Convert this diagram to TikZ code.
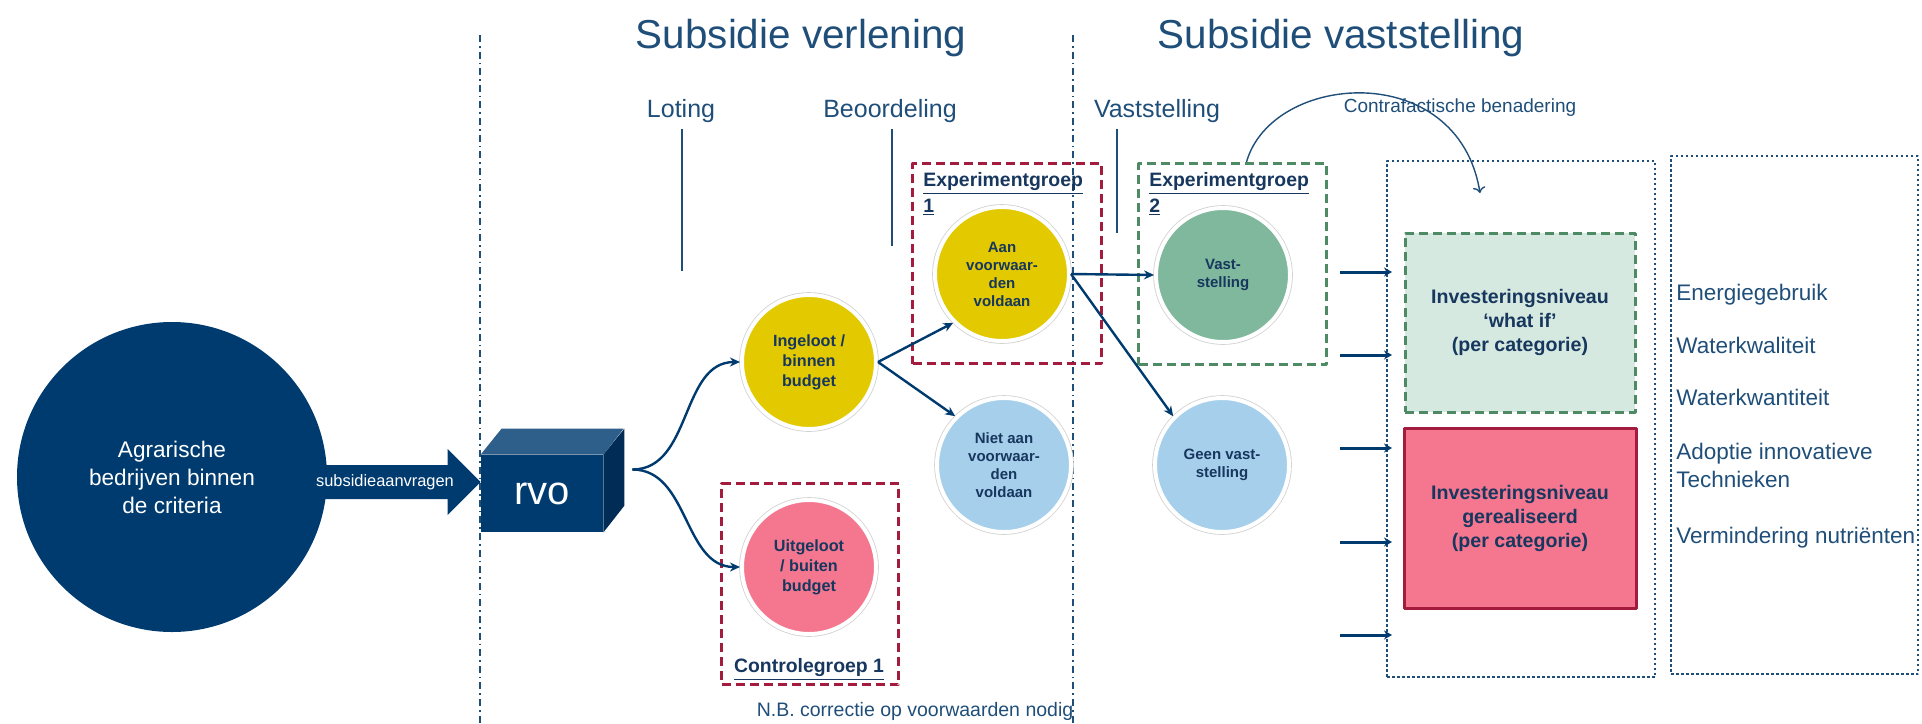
\documentclass[tikz,border=0pt]{standalone}
\usepackage{fontspec}
\setmainfont{Liberation Sans}
\usetikzlibrary{arrows.meta,calc}
\newcommand{\lettergrootte}[2]{\fontsize{#1}{#2}\selectfont}
\definecolor{navy}{HTML}{003B6F}
\definecolor{tekstblauw}{HTML}{1F4E79}
\definecolor{donkertekst}{HTML}{17375E}
\definecolor{geel}{HTML}{E2C900}
\definecolor{lichtblauw}{HTML}{A6CFEB}
\definecolor{roze}{HTML}{F4768F}
\definecolor{groen}{HTML}{7FB89C}
\definecolor{lichtgroen}{HTML}{D6E9E0}
\definecolor{kadergroen}{HTML}{4E8B64}
\definecolor{kaderrood}{HTML}{A31C3E}
\definecolor{rvoboven}{HTML}{2E5E8A}
\definecolor{rvozijkant}{HTML}{002C55}
\begin{document}
\begin{tikzpicture}[x = 0.5pt, y = -0.5pt, line join = round,
  kop/.style = {text = tekstblauw, font = \lettergrootte{20.2}{24}, anchor = base},
  fase/.style = {text = tekstblauw, font = \lettergrootte{12.5}{15}, anchor = base},
  faselijn/.style = {draw = tekstblauw, line width = 0.8pt},
  grens/.style = {draw = tekstblauw, line width = 0.6pt, dash pattern = on 3.5pt off 2pt on 0.8pt off 2pt},
  bol/.style = {circle, minimum size = 67pt, inner sep = 0pt, draw = white, line width = 2pt, preaction = {draw = black!18, line width = 2.8pt}, text = donkertekst, align = center, font = \bfseries\lettergrootte{7.5}{9}},
  grotebol/.style = {bol, font = \bfseries\lettergrootte{8.1}{10}},
  groep/.style = {anchor = north west, line width = 1.5pt, dash pattern = on 4.5pt off 2.5pt},
  groeplabel/.style = {text = donkertekst, font = \bfseries\lettergrootte{9.7}{13}, align = left, anchor = base west, inner sep = 0pt},
  verbinding/.style = {draw = navy, line width = 1.2pt, -{Stealth[length = 5pt, width = 4.5pt]}},
  kortpijl/.style = {draw = navy, line width = 1.5pt, -{Stealth[length = 4pt, width = 4.5pt]}, shorten > = -3pt},
  stippel/.style = {draw = tekstblauw, line width = 1.2pt, dash pattern = on 1.2pt off 1.3pt, anchor = north west},
  niveau/.style = {minimum width = 115pt, minimum height = 89.5pt, text = donkertekst, align = center, font = \bfseries\lettergrootte{9.8}{12}},
  effect/.style = {text = tekstblauw, font = \lettergrootte{11.25}{14}, anchor = base west, align = left, inner sep = 0pt}]

\useasboundingbox (0,0) rectangle (1922,723);

\draw[grens] (480,35) -- (480,723);
\draw[grens] (1073,35) -- (1073,723);

\node[kop] (verlening) at (801,48) {Subsidie verlening};
\node[kop] (vaststelling) at (1341,48) {Subsidie vaststelling};
\node[fase] (loting) at (681,117) {Loting};
\node[fase] (beoordeling) at (890,117) {Beoordeling};
\node[fase] (vast) at (1157,117) {Vaststelling};
\foreach \x/\onder in {682/271, 892/246, 1117/233} \draw[faselijn] (\x,129) -- (\x,\onder);

\node[groep, draw = kaderrood, minimum width = 94.5pt, minimum height = 100pt] (exp1) at (911,162) {};
\node[groep, draw = kadergroen, minimum width = 94pt, minimum height = 100.5pt] (exp2) at (1137,162) {};
\node[groep, draw = kaderrood, minimum width = 88.5pt, minimum height = 100.5pt] (ctrl) at (720,482) {};
\node[groeplabel] (exp1label) at (923,212) {\underline{Experimentgroep}\\\underline{1}};
\node[groeplabel] (exp2label) at (1149,212) {\underline{Experimentgroep}\\\underline{2}};
\node[groeplabel, anchor = base] (ctrllabel) at (809,672) {\underline{Controlegroep 1}};

\node[circle, fill = navy, minimum size = 155pt, inner sep = 0pt, text = white, align = center, font = \lettergrootte{11.3}{14}] (agr) at (172,477) {Agrarische\\bedrijven binnen\\de criteria};

\node[fill = navy, minimum width = 61pt, minimum height = 38.5pt, inner sep = 0pt, text = white, font = \lettergrootte{20}{24}] (rvo) at (542,493.5) {rvo};
\fill[rvoboven] (rvo.north west) -- ++(21,-26) -- ++(122,0) -- (rvo.north east) -- cycle;
\fill[rvozijkant] (rvo.north east) -- ++(21,-26) -- ++(0,77) -- (rvo.south east) -- cycle;

\coordinate (punt) at ([yshift = 5.75pt]rvo.west);
\fill[navy] (punt) -- ++(-33,-33) -- ++(0,16) -- ++(-150,0) -- ++(0,34) -- ++(150,0) -- ++(0,16) -- cycle;
\node[text = white, font = \lettergrootte{8.2}{10}] (aanvraag) at (385,482) {subsidieaanvragen};

\node[grotebol, fill = geel] (ing) at (809,362) {Ingeloot /\\binnen\\budget};
\node[grotebol, fill = roze] (uit) at (809,567) {Uitgeloot\\/ buiten\\budget};
\node[bol, fill = geel] (aan) at (1002,274) {Aan\\voorwaar-\\den\\voldaan};
\node[bol, fill = lichtblauw] (niet) at (1004,465) {Niet aan\\voorwaar-\\den\\voldaan};
\node[bol, fill = groen] (vst) at (1223,275) {Vast-\\stelling};
\node[bol, fill = lichtblauw] (geen) at (1222,465) {Geen vast-\\stelling};

\coordinate (splits) at ([xshift = 14.5pt, yshift = 12pt]rvo.east);
\draw[verbinding] (splits) to[out = 0, in = 180] (ing.west);
\draw[verbinding] (splits) to[out = 0, in = 180] (uit.west);
\draw[verbinding] (ing.east) -- (aan.225);
\draw[verbinding] (ing.east) -- (niet.135);
\draw[verbinding] (aan.east) -- (vst.west);
\draw[verbinding] (aan.east) -- (geen.135);

\node[stippel, minimum width = 134pt, minimum height = 258pt] (uitkomst) at (1386,160) {};
\node[stippel, minimum width = 123.5pt, minimum height = 259pt] (effecten) at (1670,155) {};
\node[niveau, fill = lichtgroen, draw = kadergroen, line width = 1.5pt, dash pattern = on 4.5pt off 2.5pt] (whatif) at (1520,322.5) {Investeringsniveau\\‘what if’\\(per categorie)};
\node[niveau, minimum width = 116pt, minimum height = 90pt, fill = roze, draw = kaderrood, line width = 1.5pt] (gerealiseerd) at (1520,518) {Investeringsniveau\\gerealiseerd\\(per categorie)};
\foreach \y in {272,355,448,542,635} \draw[kortpijl] (1340,\y) -- (uitkomst.west |- 1340,\y);

\foreach \t/\y [count = \i] in {Energiegebruik/300, Waterkwaliteit/353, Waterkwantiteit/405, {Adoptie innovatieve\\Technieken}/487, Vermindering nutriënten/543}
  \node[effect] (effect\i) at (1676,\y) {\t};

\coordinate (doel) at (1480,193);
\draw[tekstblauw, line width = 0.7pt, -{To[length = 3pt]}] ([xshift = 7pt]exp2.north) .. controls (1272,72) and (1458,58) .. (doel);
\node[text = tekstblauw, font = \lettergrootte{9.5}{12}, anchor = base] (contra) at (1460,112) {Contrafactische benadering};
\node[text = tekstblauw, font = \lettergrootte{9.75}{12}, anchor = base] (nb) at (915,716) {N.B. correctie op voorwaarden nodig};
\end{tikzpicture}
\end{document}
